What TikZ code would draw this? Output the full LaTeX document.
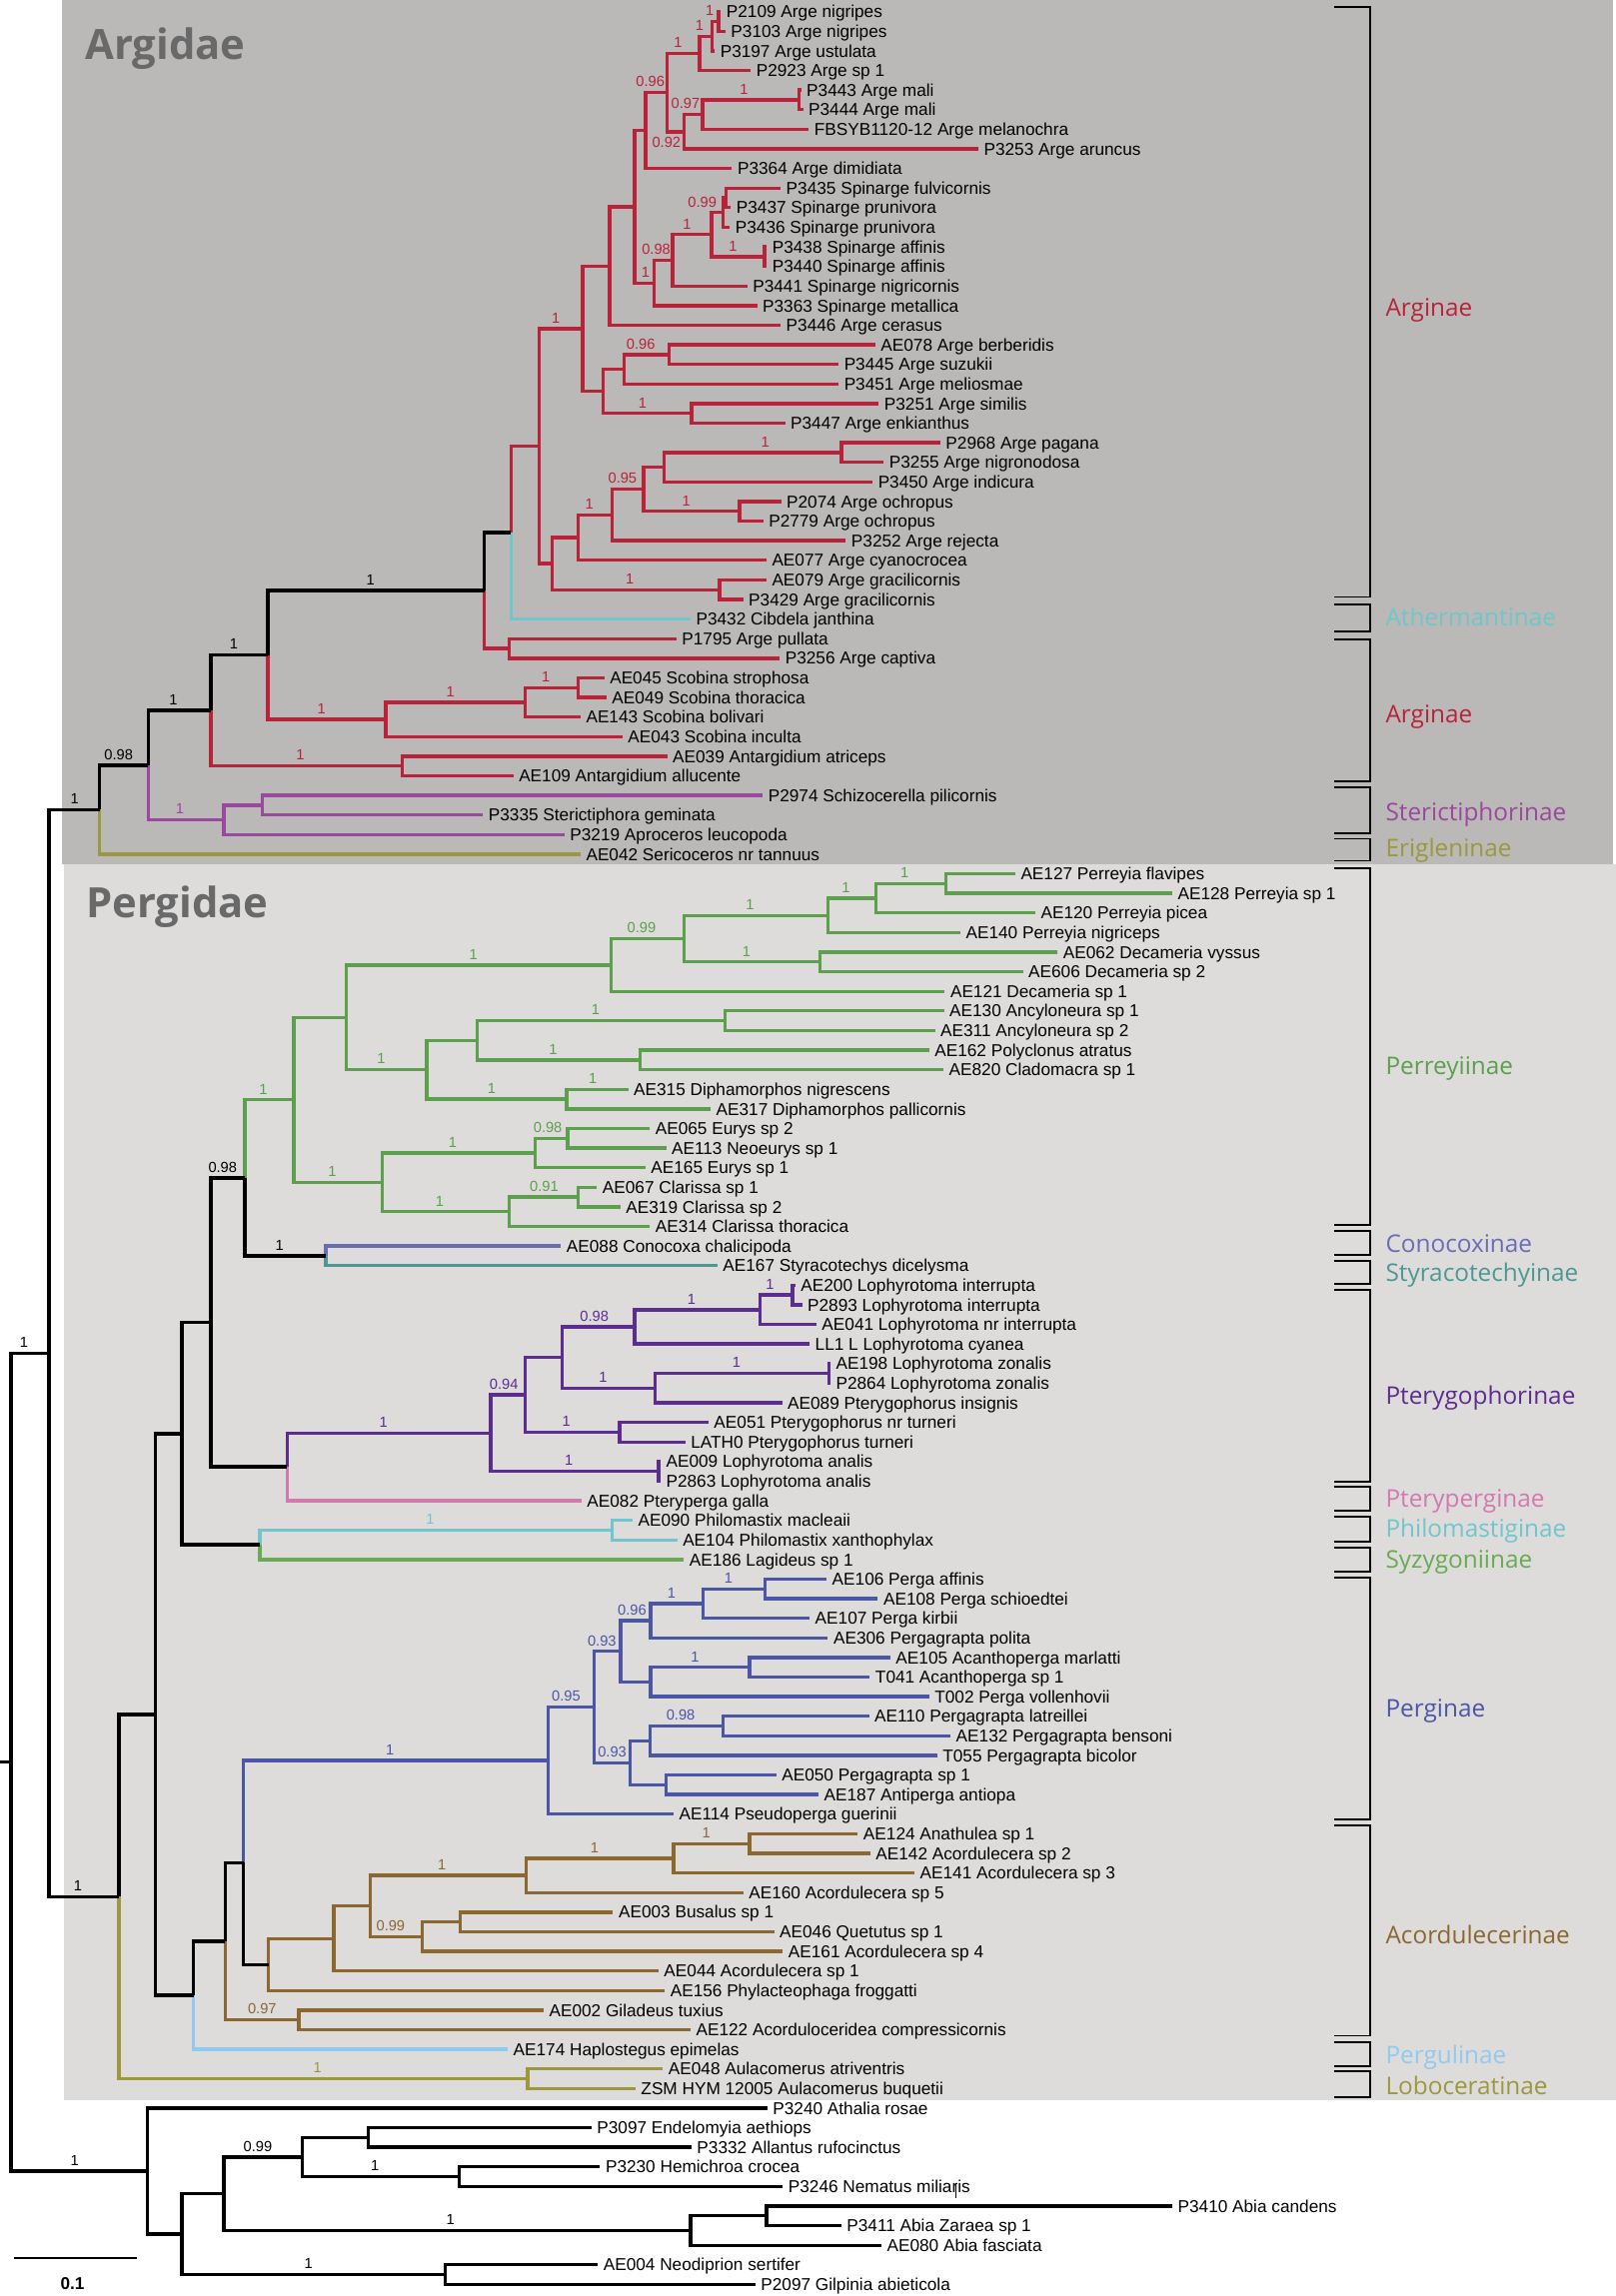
\documentclass[tikz,border=0pt]{standalone}
\usepackage{fontspec}
\setmainfont{Liberation Sans}
\newfontfamily\cladefont{Open Sans}

\definecolor{argbg}{RGB}{186,185,183}
\definecolor{perbg}{RGB}{221,220,219}
\definecolor{famgray}{RGB}{105,105,105}
\definecolor{cArg}{RGB}{185,35,58}
\definecolor{cAth}{RGB}{112,198,202}
\definecolor{cSte}{RGB}{153,73,158}
\definecolor{cEri}{RGB}{155,152,62}
\definecolor{cPer}{RGB}{92,160,78}
\definecolor{cCon}{RGB}{105,110,180}
\definecolor{cSty}{RGB}{78,152,147}
\definecolor{cPtg}{RGB}{92,45,142}
\definecolor{cPtp}{RGB}{212,120,176}
\definecolor{cPhi}{RGB}{112,198,202}
\definecolor{cSyz}{RGB}{106,170,82}
\definecolor{cPga}{RGB}{76,86,166}
\definecolor{cAco}{RGB}{140,103,48}
\definecolor{cPgu}{RGB}{145,202,240}
\definecolor{cLob}{RGB}{155,152,62}

\tikzset{
  leaf/.style={anchor=west, inner xsep=3.6pt, inner ysep=0pt, text height=8.4pt, text depth=0pt,
    font=\fontsize{11.75}{13}\selectfont},
  sup/.style={inner sep=0pt, text height=7.2pt, text depth=0pt, font=\fontsize{10}{11}\selectfont},
  br/.style={line width=2.3pt},
  brk/.style={line width=1.3pt},
  clade/.style={anchor=west, inner sep=0pt, text height=11.9pt, text depth=0pt,
    font=\cladefont\fontsize{16.6}{18}\selectfont},
  famtitle/.style={anchor=base west, inner sep=0pt, text=famgray,
    font=\cladefont\bfseries\fontsize{28.5}{30}\selectfont},
}

\begin{document}
\begin{tikzpicture}[x=1pt, y=-13.38pt]
\useasboundingbox (0,0.402) rectangle (1103.3,117.592);

% family panels
\fill[argbg] (42.3,0.402) rectangle (1101.6,44.498);
\fill[perbg] (43.9,44.498) rectangle (1103.3,107.577);
\node[famtitle] (argidae) at (58,3.43) {Argidae};
\node[famtitle] (pergidae) at (58.6,47.23) {Pergidae};

% tips
\node[leaf] (t1) at (492.2,1) {P2109 Arge nigripes};
\node[leaf] (t2) at (495.3,2) {P3103 Arge nigripes};
\node[leaf] (t3) at (488,3) {P3197 Arge ustulata};
\node[leaf] (t4) at (512.6,4) {P2923 Arge sp 1};
\node[leaf] (t5) at (547,5) {P3443 Arge mali};
\node[leaf] (t6) at (548.3,6) {P3444 Arge mali};
\node[leaf] (t7) at (552.2,7) {FBSYB1120-12 Arge melanochra};
\node[leaf] (t8) at (668,8) {P3253 Arge aruncus};
\node[leaf] (t9) at (499.8,9) {P3364 Arge dimidiata};
\node[leaf] (t10) at (533,10) {P3435 Spinarge fulvicornis};
\node[leaf] (t11) at (499,11) {P3437 Spinarge prunivora};
\node[leaf] (t12) at (498.3,12) {P3436 Spinarge prunivora};
\node[leaf] (t13) at (523.5,13) {P3438 Spinarge affinis};
\node[leaf] (t14) at (523.5,14) {P3440 Spinarge affinis};
\node[leaf] (t15) at (510.2,15) {P3441 Spinarge nigricornis};
\node[leaf] (t16) at (516.9,16) {P3363 Spinarge metallica};
\node[leaf] (t17) at (533,17) {P3446 Arge cerasus};
\node[leaf] (t18) at (597.6,18) {AE078 Arge berberidis};
\node[leaf] (t19) at (572.6,19) {P3445 Arge suzukii};
\node[leaf] (t20) at (572.6,20) {P3451 Arge meliosmae};
\node[leaf] (t21) at (600,21) {P3251 Arge similis};
\node[leaf] (t22) at (536,22) {P3447 Arge enkianthus};
\node[leaf] (t23) at (642,23) {P2968 Arge pagana};
\node[leaf] (t24) at (603.4,24) {P3255 Arge nigronodosa};
\node[leaf] (t25) at (595.8,25) {P3450 Arge indicura};
\node[leaf] (t26) at (533.3,26) {P2074 Arge ochropus};
\node[leaf] (t27) at (521.1,27) {P2779 Arge ochropus};
\node[leaf] (t28) at (577.5,28) {P3252 Arge rejecta};
\node[leaf] (t29) at (523.3,29) {AE077 Arge cyanocrocea};
\node[leaf] (t30) at (523.3,30) {AE079 Arge gracilicornis};
\node[leaf] (t31) at (507.4,31) {P3429 Arge gracilicornis};
\node[leaf] (t32) at (471.5,32) {P3432 Cibdela janthina};
\node[leaf] (t33) at (461.8,33) {P1795 Arge pullata};
\node[leaf] (t34) at (532.4,34) {P3256 Arge captiva};
\node[leaf] (t35) at (412.6,35) {AE045 Scobina strophosa};
\node[leaf] (t36) at (414.1,36) {AE049 Scobina thoracica};
\node[leaf] (t37) at (396.4,37) {AE143 Scobina bolivari};
\node[leaf] (t38) at (425,38) {AE043 Scobina inculta};
\node[leaf] (t39) at (455.5,39) {AE039 Antargidium atriceps};
\node[leaf] (t40) at (350.5,40) {AE109 Antargidium allucente};
\node[leaf] (t41) at (520.8,41) {P2974 Schizocerella pilicornis};
\node[leaf] (t42) at (329.8,42) {P3335 Sterictiphora geminata};
\node[leaf] (t43) at (385.4,43) {P3219 Aproceros leucopoda};
\node[leaf] (t44) at (396.4,44) {AE042 Sericoceros nr tannuus};
\node[leaf] (t45) at (693.2,45) {AE127 Perreyia flavipes};
\node[leaf] (t46) at (800.4,46) {AE128 Perreyia sp 1};
\node[leaf] (t47) at (706.9,47) {AE120 Perreyia picea};
\node[leaf] (t48) at (655.7,48) {AE140 Perreyia nigriceps};
\node[leaf] (t49) at (722.1,49) {AE062 Decameria vyssus};
\node[leaf] (t50) at (698.4,50) {AE606 Decameria sp 2};
\node[leaf] (t51) at (645.1,51) {AE121 Decameria sp 1};
\node[leaf] (t52) at (644.5,52) {AE130 Ancyloneura sp 1};
\node[leaf] (t53) at (638.4,53) {AE311 Ancyloneura sp 2};
\node[leaf] (t54) at (634.4,54) {AE162 Polyclonus atratus};
\node[leaf] (t55) at (644.2,55) {AE820 Cladomacra sp 1};
\node[leaf] (t56) at (428.9,56) {AE315 Diphamorphos nigrescens};
\node[leaf] (t57) at (485.2,57) {AE317 Diphamorphos pallicornis};
\node[leaf] (t58) at (443.7,58) {AE065 Eurys sp 2};
\node[leaf] (t59) at (454.8,59) {AE113 Neoeurys sp 1};
\node[leaf] (t60) at (440.7,60) {AE165 Eurys sp 1};
\node[leaf] (t61) at (407.6,61) {AE067 Clarissa sp 1};
\node[leaf] (t62) at (423.6,62) {AE319 Clarissa sp 2};
\node[leaf] (t63) at (443.7,63) {AE314 Clarissa thoracica};
\node[leaf] (t64) at (383,64) {AE088 Conocoxa chalicipoda};
\node[leaf] (t65) at (489.8,65) {AE167 Styracotechys dicelysma};
\node[leaf] (t66) at (543,66) {AE200 Lophyrotoma interrupta};
\node[leaf] (t67) at (547.6,67) {P2893 Lophyrotoma interrupta};
\node[leaf] (t68) at (557.4,68) {AE041 Lophyrotoma nr interrupta};
\node[leaf] (t69) at (552.8,69) {LL1 L Lophyrotoma cyanea};
\node[leaf] (t70) at (567,70) {AE198 Lophyrotoma zonalis};
\node[leaf] (t71) at (567,71) {P2864 Lophyrotoma zonalis};
\node[leaf] (t72) at (534,72) {AE089 Pterygophorus insignis};
\node[leaf] (t73) at (483.7,73) {AE051 Pterygophorus nr turneri};
\node[leaf] (t74) at (467.9,74) {LATH0 Pterygophorus turneri};
\node[leaf] (t75) at (451,75) {AE009 Lophyrotoma analis};
\node[leaf] (t76) at (451,76) {P2863 Lophyrotoma analis};
\node[leaf] (t77) at (397,77) {AE082 Pteryperga galla};
\node[leaf] (t78) at (431.9,78) {AE090 Philomastix macleaii};
\node[leaf] (t79) at (462.4,79) {AE104 Philomastix xanthophylax};
\node[leaf] (t80) at (467,80) {AE186 Lagideus sp 1};
\node[leaf] (t81) at (564.4,81) {AE106 Perga affinis};
\node[leaf] (t82) at (599.4,82) {AE108 Perga schioedtei};
\node[leaf] (t83) at (552.8,83) {AE107 Perga kirbii};
\node[leaf] (t84) at (565.3,84) {AE306 Pergagrapta polita};
\node[leaf] (t85) at (607.9,85) {AE105 Acanthoperga marlatti};
\node[leaf] (t86) at (593.9,86) {T041 Acanthoperga sp 1};
\node[leaf] (t87) at (634.4,87) {T002 Perga vollenhovii};
\node[leaf] (t88) at (593.3,88) {AE110 Pergagrapta latreillei};
\node[leaf] (t89) at (649,89) {AE132 Pergagrapta bensoni};
\node[leaf] (t90) at (639.9,90) {T055 Pergagrapta bicolor};
\node[leaf] (t91) at (530,91) {AE050 Pergagrapta sp 1};
\node[leaf] (t92) at (558.9,92) {AE187 Antiperga antiopa};
\node[leaf] (t93) at (459.9,93) {AE114 Pseudoperga guerinii};
\node[leaf] (t94) at (585.7,94) {AE124 Anathulea sp 1};
\node[leaf] (t95) at (594.2,95) {AE142 Acordulecera sp 2};
\node[leaf] (t96) at (624.4,96) {AE141 Acordulecera sp 3};
\node[leaf] (t97) at (507.5,97) {AE160 Acordulecera sp 5};
\node[leaf] (t98) at (418.6,98) {AE003 Busalus sp 1};
\node[leaf] (t99) at (528.5,99) {AE046 Quetutus sp 1};
\node[leaf] (t100) at (534.5,100) {AE161 Acordulecera sp 4};
\node[leaf] (t101) at (449.6,101) {AE044 Acordulecera sp 1};
\node[leaf] (t102) at (453.9,102) {AE156 Phylacteophaga froggatti};
\node[leaf] (t103) at (371.2,103) {AE002 Giladeus tuxius};
\node[leaf] (t104) at (471.5,104) {AE122 Acorduloceridea compressicornis};
\node[leaf] (t105) at (346.7,105) {AE174 Haplostegus epimelas};
\node[leaf] (t106) at (452.6,106) {AE048 Aulacomerus atriventris};
\node[leaf] (t107) at (433.9,107) {ZSM HYM 12005 Aulacomerus buquetii};
\node[leaf] (t108) at (523.9,108) {P3240 Athalia rosae};
\node[leaf] (t109) at (403.8,109) {P3097 Endelomyia aethiops};
\node[leaf] (t110) at (472.1,110) {P3332 Allantus rufocinctus};
\node[leaf] (t111) at (409.7,111) {P3230 Hemichroa crocea};
\node[leaf] (t112) at (534.5,112) {P3246 Nematus miliaris};
\node[leaf] (t113) at (800.4,113) {P3410 Abia candens};
\node[leaf] (t114) at (574.4,114) {P3411 Abia Zaraea sp 1};
\node[leaf] (t115) at (601.8,115) {AE080 Abia fasciata};
\node[leaf] (t116) at (408.2,116) {AE004 Neodiprion sertifer};
\node[leaf] (t117) at (515.7,117) {P2097 Gilpinia abieticola};

% internal nodes, Argidae
\coordinate (nA) at (490.7,1.5);
\coordinate (nB) at (486.1,2.25);
\coordinate (nC) at (477.6,3.125);
\coordinate (nH) at (545.5,5.5);
\coordinate (nF) at (479.7,6.25);
\coordinate (nE) at (467,7.125);
\coordinate (nG) at (455.5,5.125);
\coordinate (nI) at (440.7,7.063);
\coordinate (nP) at (495.9,10.5);
\coordinate (nN) at (493.7,11.25);
\coordinate (nO) at (522,13.5);
\coordinate (nM) at (485.8,12.375);
\coordinate (nL) at (459.3,13.688);
\coordinate (nK) at (446.7,14.844);
\coordinate (nJ) at (433.3,10.953);
\coordinate (nQ) at (416.2,13.977);
\coordinate (nV) at (457,18.5);
\coordinate (nT) at (426,19.25);
\coordinate (nU) at (472.1,21.5);
\coordinate (nR) at (411.7,20.375);
\coordinate (nS) at (397.8,17.176);
\coordinate (nFF) at (574.4,23.5);
\coordinate (nDD) at (453.5,24.25);
\coordinate (nEE) at (505,26.5);
\coordinate (nCC) at (439.3,25.375);
\coordinate (nBB) at (418,26.688);
\coordinate (nAA) at (394.9,27.844);
\coordinate (nZ) at (491.3,30.5);
\coordinate (nW) at (377.1,29.172);
\coordinate (nX) at (368.3,23.174);
\coordinate (nGG) at (349,27.587);
\coordinate (nII) at (347.6,33.5);
\coordinate (nHH) at (330.7,30.544);
\coordinate (nMM) at (394.9,35.5);
\coordinate (nLL) at (358.5,36.25);
\coordinate (nKK) at (263.3,37.125);
\coordinate (nJJ) at (182.8,33.835);
\coordinate (nOO) at (274.5,39.5);
\coordinate (nNN) at (144,36.667);
\coordinate (nRR) at (179,41.5);
\coordinate (nQQ) at (152.9,42.25);
\coordinate (nPP) at (101.2,39.459);
\coordinate (nSS) at (68,41.729);

% internal nodes, Pergidae
\coordinate (nC10) at (646,45.5);
\coordinate (nC9) at (597.9,46.25);
\coordinate (nC7) at (565.3,47.125);
\coordinate (nC8) at (559.8,49.5);
\coordinate (nC5) at (467,48.313);
\coordinate (nC3) at (417.1,49.656);
\coordinate (nC13) at (495,52.5);
\coordinate (nC14) at (437.2,54.5);
\coordinate (nC11) at (326,53.5);
\coordinate (nC12) at (386.9,56.5);
\coordinate (nC4) at (291.4,55);
\coordinate (nC1) at (236.6,52.328);
\coordinate (nC17) at (387.5,58.5);
\coordinate (nC15) at (365.3,59.25);
\coordinate (nC18) at (394.9,61.5);
\coordinate (nC16) at (347.6,62.25);
\coordinate (nC2) at (260.9,60.75);
\coordinate (nB9) at (200.6,56.539);
\coordinate (nB10) at (222.4,64.5);
\coordinate (nB7) at (167.1,60.52);
\coordinate (nB19) at (541,66.5);
\coordinate (nB18) at (518.7,67.25);
\coordinate (nB16) at (433.3,68.125);
\coordinate (nB20) at (565.9,70.5);
\coordinate (nB17) at (447.3,71.25);
\coordinate (nB14) at (384,69.688);
\coordinate (nB15) at (423,73.5);
\coordinate (nB12) at (358.5,71.594);
\coordinate (nB13) at (449.6,75.5);
\coordinate (nB11) at (335.1,73.547);
\coordinate (nB8) at (196.1,75.273);
\coordinate (nB5) at (144,67.897);
\coordinate (nB21) at (418,78.5);
\coordinate (nB6) at (177.5,79.25);
\coordinate (nB3) at (124.2,73.573);
\coordinate (nB44) at (522.4,81.5);
\coordinate (nB43) at (480,82.25);
\coordinate (nB41) at (444.3,83.125);
\coordinate (nB45) at (511.7,85.5);
\coordinate (nB42) at (444.3,86.25);
\coordinate (nB35) at (423.6,84.688);
\coordinate (nB39) at (493.7,88.5);
\coordinate (nB37) at (443.7,89.25);
\coordinate (nB40) at (454.8,91.5);
\coordinate (nB36) at (430.4,90.375);
\coordinate (nB34) at (405.8,87.531);
\coordinate (nB25) at (374.2,90.266);
\coordinate (nB32) at (511.7,94.5);
\coordinate (nB31) at (460,95.25);
\coordinate (nB29) at (359.4,96.125);
\coordinate (nB33) at (314.1,98.5);
\coordinate (nB30) at (288.4,99.25);
\coordinate (nB28) at (252.9,97.688);
\coordinate (nB27) at (227.8,99.344);
\coordinate (nB26) at (183.4,100.672);
\coordinate (nB23) at (166.2,95.469);
\coordinate (nB24) at (204.1,103.5);
\coordinate (nB22) at (153.8,99.485);
\coordinate (nB4) at (132.2,102.242);
\coordinate (nB2) at (105.9,87.908);
\coordinate (nB1) at (360.3,106.5);
\coordinate (nUU) at (81.3,97.204);
\coordinate (nTT) at (33.4,69.467);

% internal nodes, outgroups
\coordinate (nA3) at (251.4,109.5);
\coordinate (nA4) at (313.5,111.5);
\coordinate (nA1) at (206.5,110.5);
\coordinate (nA5) at (523.3,113.5);
\coordinate (nA2) at (471.5,114.25);
\coordinate (nYY) at (152.9,112.375);
\coordinate (nZZ) at (304,116.5);
\coordinate (nXX) at (124.2,114.438);
\coordinate (nWW) at (100.6,111.219);
\coordinate (nVV) at (7.4,90.343);
\coordinate (root) at (0,90.343);

% branches
\draw[br, cArg] (nA) |- (t1.west) (nA) |- (t2.west) (nB) |- (nA) (nB) |- (t3.west)
  (nC) |- (nB) (nC) |- (t4.west) (nH) |- (t5.west) (nH) |- (t6.west)
  (nF) |- (nH) (nF) |- (t7.west) (nE) |- (nF) (nE) |- (t8.west)
  (nG) |- (nC) (nG) |- (nE) (nI) |- (nG) (nI) |- (t9.west)
  (nP) |- (t10.west) (nP) |- (t11.west) (nN) |- (nP) (nN) |- (t12.west)
  (nO) |- (t13.west) (nO) |- (t14.west) (nM) |- (nN) (nM) |- (nO)
  (nL) |- (nM) (nL) |- (t15.west) (nK) |- (nL) (nK) |- (t16.west)
  (nJ) |- (nI) (nJ) |- (nK) (nQ) |- (nJ) (nQ) |- (t17.west)
  (nV) |- (t18.west) (nV) |- (t19.west) (nT) |- (nV) (nT) |- (t20.west)
  (nU) |- (t21.west) (nU) |- (t22.west) (nR) |- (nT) (nR) |- (nU)
  (nS) |- (nQ) (nS) |- (nR)
  (nFF) |- (t23.west) (nFF) |- (t24.west) (nDD) |- (nFF) (nDD) |- (t25.west)
  (nEE) |- (t26.west) (nEE) |- (t27.west) (nCC) |- (nDD) (nCC) |- (nEE)
  (nBB) |- (nCC) (nBB) |- (t28.west) (nAA) |- (nBB) (nAA) |- (t29.west)
  (nZ) |- (t30.west) (nZ) |- (t31.west) (nW) |- (nAA) (nW) |- (nZ)
  (nX) |- (nS) (nX) |- (nW) (nGG) |- (nX)
  (nII) |- (t33.west) (nII) |- (t34.west) (nHH) |- (nII)
  (nMM) |- (t35.west) (nMM) |- (t36.west) (nLL) |- (nMM) (nLL) |- (t37.west)
  (nKK) |- (nLL) (nKK) |- (t38.west) (nJJ) |- (nKK)
  (nOO) |- (t39.west) (nOO) |- (t40.west) (nNN) |- (nOO);
\draw[br, cAth] (nGG) |- (t32.west);
\draw[br, cSte] (nRR) |- (t41.west) (nRR) |- (t42.west) (nQQ) |- (nRR) (nQQ) |- (t43.west)
  (nPP) |- (nQQ);
\draw[br, cEri] (nSS) |- (t44.west);
\draw[br, cPer] (nC10) |- (t45.west) (nC10) |- (t46.west) (nC9) |- (nC10) (nC9) |- (t47.west)
  (nC7) |- (nC9) (nC7) |- (t48.west) (nC8) |- (t49.west) (nC8) |- (t50.west)
  (nC5) |- (nC7) (nC5) |- (nC8) (nC3) |- (nC5) (nC3) |- (t51.west)
  (nC13) |- (t52.west) (nC13) |- (t53.west) (nC14) |- (t54.west) (nC14) |- (t55.west)
  (nC11) |- (nC13) (nC11) |- (nC14) (nC12) |- (t56.west) (nC12) |- (t57.west)
  (nC4) |- (nC11) (nC4) |- (nC12) (nC1) |- (nC3) (nC1) |- (nC4)
  (nC17) |- (t58.west) (nC17) |- (t59.west) (nC15) |- (nC17) (nC15) |- (t60.west)
  (nC18) |- (t61.west) (nC18) |- (t62.west) (nC16) |- (nC18) (nC16) |- (t63.west)
  (nC2) |- (nC15) (nC2) |- (nC16) (nB9) |- (nC1) (nB9) |- (nC2) (nB7) |- (nB9);
\draw[br, cCon] (nB10) |- (t64.west);
\draw[br, cSty] (nB10) |- (t65.west);
\draw[br, cPtg] (nB19) |- (t66.west) (nB19) |- (t67.west) (nB18) |- (nB19) (nB18) |- (t68.west)
  (nB16) |- (nB18) (nB16) |- (t69.west) (nB20) |- (t70.west) (nB20) |- (t71.west)
  (nB17) |- (nB20) (nB17) |- (t72.west) (nB14) |- (nB16) (nB14) |- (nB17)
  (nB15) |- (t73.west) (nB15) |- (t74.west) (nB12) |- (nB14) (nB12) |- (nB15)
  (nB13) |- (t75.west) (nB13) |- (t76.west) (nB11) |- (nB12) (nB11) |- (nB13)
  (nB8) |- (nB11);
\draw[br, cPtp] (nB8) |- (t77.west);
\draw[br, cPhi] (nB21) |- (t78.west) (nB21) |- (t79.west) (nB6) |- (nB21);
\draw[br, cSyz] (nB6) |- (t80.west);
\draw[br, cPga] (nB44) |- (t81.west) (nB44) |- (t82.west) (nB43) |- (nB44) (nB43) |- (t83.west)
  (nB41) |- (nB43) (nB41) |- (t84.west) (nB45) |- (t85.west) (nB45) |- (t86.west)
  (nB42) |- (nB45) (nB42) |- (t87.west) (nB35) |- (nB41) (nB35) |- (nB42)
  (nB39) |- (t88.west) (nB39) |- (t89.west) (nB37) |- (nB39) (nB37) |- (t90.west)
  (nB40) |- (t91.west) (nB40) |- (t92.west) (nB36) |- (nB37) (nB36) |- (nB40)
  (nB34) |- (nB35) (nB34) |- (nB36) (nB25) |- (nB34) (nB25) |- (t93.west)
  (nB23) |- (nB25);
\draw[br, cAco] (nB32) |- (t94.west) (nB32) |- (t95.west) (nB31) |- (nB32) (nB31) |- (t96.west)
  (nB29) |- (nB31) (nB29) |- (t97.west) (nB33) |- (t98.west) (nB33) |- (t99.west)
  (nB30) |- (nB33) (nB30) |- (t100.west) (nB28) |- (nB29) (nB28) |- (nB30)
  (nB27) |- (nB28) (nB27) |- (t101.west) (nB26) |- (nB27) (nB26) |- (t102.west)
  (nB24) |- (t103.west) (nB24) |- (t104.west) (nB22) |- (nB24);
\draw[br, cPgu] (nB4) |- (t105.west);
\draw[br, cLob] (nB1) |- (t106.west) (nB1) |- (t107.west) (nUU) |- (nB1);
\draw[br] (nHH) |- (nGG) (nJJ) |- (nHH) (nNN) |- (nJJ) (nPP) |- (nNN) (nSS) |- (nPP)
  (nB7) |- (nB10) (nB5) |- (nB7) (nB5) |- (nB8) (nB3) |- (nB5) (nB3) |- (nB6)
  (nB23) |- (nB26) (nB22) |- (nB23) (nB4) |- (nB22) (nB2) |- (nB3) (nB2) |- (nB4)
  (nUU) |- (nB2) (nTT) |- (nSS) (nTT) |- (nUU)
  (nA3) |- (t109.west) (nA3) |- (t110.west) (nA4) |- (t111.west) (nA4) |- (t112.west)
  (nA1) |- (nA3) (nA1) |- (nA4) (nA5) |- (t113.west) (nA5) |- (t114.west)
  (nA2) |- (nA5) (nA2) |- (t115.west) (nYY) |- (nA1) (nYY) |- (nA2)
  (nZZ) |- (t116.west) (nZZ) |- (t117.west) (nXX) |- (nYY) (nXX) |- (nZZ)
  (nWW) |- (t108.west) (nWW) |- (nXX) (nVV) |- (nTT) (nVV) |- (nWW) (root) -- (nVV);
\draw[line width=0.9pt] (652.7,111.85) -- (652.7,112.6);

% support values
\node[sup,cArg] (s1) at (484.6,0.94) {1};
\node[sup,cArg] (s2) at (477.6,1.69) {1};
\node[sup,cArg] (s3) at (463,2.565) {1};
\node[sup,cArg] (s4) at (444,4.565) {0.96};
\node[sup,cArg] (s5) at (468,5.69) {0.97};
\node[sup,cArg] (s6) at (508,4.94) {1};
\node[sup,cArg] (s7) at (455,7.67) {0.92};
\node[sup,cArg] (s8) at (479.5,10.69) {0.99};
\node[sup,cArg] (s9) at (469,11.815) {1};
\node[sup,cArg] (s10) at (500.4,12.94) {1};
\node[sup,cArg] (s11) at (448,13.13) {0.98};
\node[sup,cArg] (s12) at (440.7,14.28) {1};
\node[sup,cArg] (s13) at (437.5,17.94) {0.96};
\node[sup,cArg] (s14) at (438.7,20.94) {1};
\node[sup,cArg] (s15) at (379.5,16.62) {1};
\node[sup,cArg] (s16) at (425,24.815) {0.95};
\node[sup,cArg] (s17) at (402.3,26.13) {1};
\node[sup,cArg] (s18) at (522.4,22.94) {1};
\node[sup,cArg] (s19) at (468.5,25.94) {1};
\node[sup,cArg] (s20) at (430,29.94) {1};
\node[sup] (s21) at (253,29.98) {1};
\node[sup,cArg] (s22) at (372.7,34.94) {1};
\node[sup,cArg] (s23) at (307.6,35.69) {1};
\node[sup,cArg] (s24) at (219.5,36.565) {1};
\node[sup] (s25) at (159.7,33.275) {1};
\node[sup,cArg] (s26) at (205,38.94) {1};
\node[sup] (s27) at (118.3,36.107) {1};
\node[sup,cSte] (s28) at (122.8,41.69) {1};
\node[sup] (s29) at (81,38.9) {0.98};
\node[sup] (s30) at (50.9,41.17) {1};
\node[sup,cPer] (s31) at (617.7,44.94) {1};
\node[sup,cPer] (s32) at (577.5,45.69) {1};
\node[sup,cPer] (s33) at (512,46.565) {1};
\node[sup,cPer] (s34) at (509.6,48.94) {1};
\node[sup,cPer] (s35) at (438,47.75) {0.99};
\node[sup,cPer] (s36) at (323.3,49.1) {1};
\node[sup,cPer] (s37) at (406.7,51.94) {1};
\node[sup,cPer] (s38) at (377.7,53.94) {1};
\node[sup,cPer] (s39) at (404.7,55.44) {1};
\node[sup,cPer] (s40) at (335.7,55.94) {1};
\node[sup,cPer] (s41) at (260.3,54.44) {1};
\node[sup,cPer] (s42) at (374,57.94) {0.98};
\node[sup,cPer] (s43) at (309.1,58.69) {1};
\node[sup,cPer] (s44) at (371.5,60.94) {0.91};
\node[sup,cPer] (s45) at (300.2,61.69) {1};
\node[sup,cPer] (s46) at (226.9,60.19) {1};
\node[sup,cPer] (s47) at (179.8,55.98) {1};
\node[sup] (s48) at (152,59.96) {0.98};
\node[sup] (s49) at (190.8,63.94) {1};
\node[sup,cPtg] (s50) at (261.8,72.99) {1};
\node[sup,cPtg] (s51) at (344,71.03) {0.94};
\node[sup,cPtg] (s52) at (405.8,67.565) {0.98};
\node[sup,cPtg] (s53) at (411.8,70.69) {1};
\node[sup,cPtg] (s54) at (386.6,72.94) {1};
\node[sup,cPtg] (s55) at (388.4,74.94) {1};
\node[sup,cPtg] (s56) at (472.1,66.69) {1};
\node[sup,cPtg] (s57) at (525.7,65.94) {1};
\node[sup,cPtg] (s58) at (502.9,69.94) {1};
\node[sup,cPhi] (s59) at (293.7,77.94) {1};
\node[sup,cPga] (s60) at (266.2,89.71) {1};
\node[sup,cPga] (s61) at (386.5,86.97) {0.95};
\node[sup,cPga] (s62) at (411,84.13) {0.93};
\node[sup,cPga] (s63) at (431.5,82.565) {0.96};
\node[sup,cPga] (s64) at (458.5,81.69) {1};
\node[sup,cPga] (s65) at (497.4,80.94) {1};
\node[sup,cPga] (s66) at (474.6,84.94) {1};
\node[sup,cPga] (s67) at (418,89.815) {0.93};
\node[sup,cPga] (s68) at (464.7,87.94) {0.98};
\node[sup,cAco] (s69) at (301.7,95.565) {1};
\node[sup,cAco] (s70) at (405.9,94.69) {1};
\node[sup,cAco] (s71) at (266.7,98.69) {0.99};
\node[sup,cAco] (s72) at (482.2,93.94) {1};
\node[sup,cAco] (s73) at (179,102.94) {0.97};
\node[sup,cLob] (s74) at (216.8,105.94) {1};
\node[sup] (s75) at (53.2,96.64) {1};
\node[sup] (s76) at (16.3,68.91) {1};
\node[sup] (s77) at (50.9,110.66) {1};
\node[sup] (s78) at (176,109.94) {0.99};
\node[sup] (s79) at (256,110.94) {1};
\node[sup] (s80) at (307.6,113.69) {1};
\node[sup] (s81) at (210.6,115.94) {1};

% subfamily brackets
\draw[brk] (910.6,0.776) -| (935.2,30.873) -- (910.6,30.873);
\draw[brk] (910.6,31.247) -| (935.2,32.637) -- (910.6,32.637);
\draw[brk] (910.6,33.048) -| (935.2,40.26) -- (910.6,40.26);
\draw[brk] (910.6,40.597) -| (935.2,42.951) -- (910.6,42.951);
\draw[brk] (910.6,43.212) -| (935.2,44.333) -- (910.6,44.333);
\draw[brk] (910.6,44.714) -| (935.2,62.943) -- (910.6,62.943);
\draw[brk] (910.6,63.242) -| (935.2,64.438) -- (910.6,64.438);
\draw[brk] (910.6,64.737) -| (935.2,65.933) -- (910.6,65.933);
\draw[brk] (910.6,66.232) -| (935.2,76.008) -- (910.6,76.008);
\draw[brk] (910.6,76.27) -| (935.2,77.503) -- (910.6,77.503);
\draw[brk] (910.6,77.802) -| (935.2,79.073) -- (910.6,79.073);
\draw[brk] (910.6,79.372) -| (935.2,80.605) -- (910.6,80.605);
\draw[brk] (910.6,80.934) -| (935.2,93.288) -- (910.6,93.288);
\draw[brk] (910.6,93.587) -| (935.2,104.305) -- (910.6,104.305);
\draw[brk] (910.6,104.641) -| (935.2,105.867) -- (910.6,105.867);
\draw[brk] (910.6,106.128) -| (935.2,107.436) -- (910.6,107.436);

\node[clade, cArg] (arginae1) at (945.9,16.1) {Arginae};
\node[clade, cAth] (atherm) at (945.9,31.89) {Athermantinae};
\node[clade, cArg] (arginae2) at (945.9,36.86) {Arginae};
\node[clade, cSte] (sterict) at (945.9,41.83) {Sterictiphorinae};
\node[clade, cEri] (erigl) at (945.9,43.7) {Erigleninae};
\node[clade, cPer] (perrey) at (945.9,54.81) {Perreyiinae};
\node[clade, cCon] (conoco) at (945.9,63.88) {Conocoxinae};
\node[clade, cSty] (styrac) at (945.9,65.37) {Styracotechyinae};
\node[clade, cPtg] (pteryg) at (945.9,71.64) {Pterygophorinae};
\node[clade, cPtp] (pteryp) at (945.9,76.87) {Pteryperginae};
\node[clade, cPhi] (philom) at (945.9,78.43) {Philomastiginae};
\node[clade, cSyz] (syzyg) at (945.9,80) {Syzygoniinae};
\node[clade, cPga] (pergin) at (945.9,87.58) {Perginae};
\node[clade, cAco] (acordu) at (945.9,99.15) {Acordulecerinae};
\node[clade, cPgu] (pergul) at (945.9,105.31) {Pergulinae};
\node[clade, cLob] (lobocer) at (945.9,106.87) {Loboceratinae};

% scale bar
\coordinate (barL) at (9.8,115.65);
\coordinate (barR) at (93.2,115.65);
\draw[line width=1pt] (barL) -- (barR);
\node[inner sep=0pt, font=\bfseries\fontsize{11.7}{13}\selectfont] (barlab) at (49.5,116.96) {0.1};
\end{tikzpicture}
\end{document}
